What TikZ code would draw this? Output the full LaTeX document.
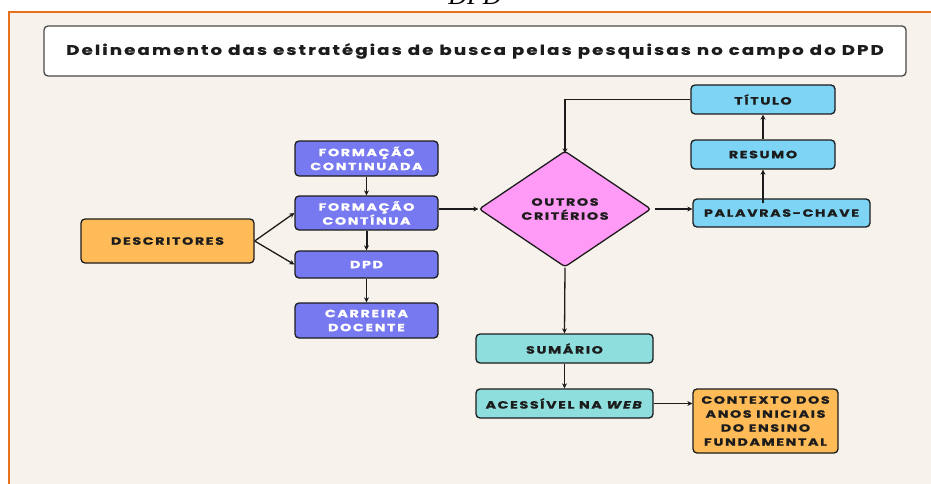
\documentclass[tikz,border=0pt]{standalone}
\usepackage{fontspec}
\usetikzlibrary{shapes.geometric,arrows.meta}
\newfontfamily\popf[FakeStretch=1.35,LetterSpace=16,FakeBold=1.2]{Poppins}
\newfontfamily\titf[FakeStretch=1.3,LetterSpace=15,FakeBold=0.5]{Poppins}
\newfontfamily\serf{Liberation Serif}
\definecolor{bgbeige}{HTML}{F7F3EC}
\definecolor{frameor}{HTML}{E8721C}
\definecolor{boxor}{HTML}{FFBB57}
\definecolor{boxpur}{HTML}{7779F0}
\definecolor{boxpink}{HTML}{FF9AF7}
\definecolor{boxblue}{HTML}{7DD4F5}
\definecolor{boxteal}{HTML}{8DDEDC}
\definecolor{ink}{HTML}{1C1C1C}
\tikzset{
  box/.style={draw=ink, line width=1.3pt, rounded corners=4pt, inner sep=0pt,
    align=center, font=\popf\bfseries\fontsize{10.5}{14}\selectfont, text=ink},
  pur/.style={box, fill=boxpur, text=white, minimum width=143pt},
  conn/.style={draw=ink, line width=1.3pt, -{Stealth[length=5pt,width=5pt]}},
}
\begin{document}
\begin{tikzpicture}[x=1pt,y=-1pt]
\useasboundingbox (0,0) rectangle (931,484);
\fill[white] (0,0) rectangle (931,484);
\fill[bgbeige] (9,12) rectangle (931,484);
\draw[frameor, line width=2pt] (9,484) -- (9,12) -- (931,12);
\node[font=\serf\itshape\fontsize{26}{28}\selectfont, anchor=base] (cap) at (475,5) {DPD};
\node[draw=ink!80, line width=1.3pt, fill=white, rounded corners=4pt, minimum width=862pt, minimum height=50pt,
  font=\titf\bfseries\fontsize{14}{16}\selectfont, text=ink] (title) at (475,51)
  {Delineamento das estratégias de busca pelas pesquisas no campo do DPD};
\node[box, fill=boxor, minimum width=173pt, minimum height=44pt] (desc) at (167.5,241) {DESCRITORES};
\node[pur, minimum height=35pt] (fc1) at (366.5,158.5) {FORMAÇÃO\\CONTINUADA};
\node[pur, minimum height=34pt] (fc2) at (366.5,213) {FORMAÇÃO\\CONTÍNUA};
\node[pur, minimum height=27pt] (dpd) at (366.5,264.5) {DPD};
\node[pur, minimum height=35pt] (car) at (366.5,320.5) {CARREIRA\\DOCENTE};
\node[box, shape=diamond, fill=boxpink, rounded corners=3pt, minimum width=172pt, minimum height=116pt] (dia) at (565,209) {OUTROS\\CRITÉRIOS};
\node[box, fill=boxblue, minimum width=144pt, minimum height=29pt] (tit) at (763,99.5) {TÍTULO};
\node[box, fill=boxblue, minimum width=144pt, minimum height=29pt] (res) at (763,154.5) {RESUMO};
\node[box, fill=boxblue, minimum width=177pt, minimum height=28pt] (pal) at (781.5,213) {PALAVRAS-CHAVE};
\node[box, fill=boxteal, minimum width=177pt, minimum height=29pt] (sum) at (564.5,348.5) {SUMÁRIO};
\node[box, fill=boxteal, minimum width=177pt, minimum height=29pt] (ace) at (564.5,403.5) {ACESSÍVEL NA \textit{WEB}};
\node[box, fill=boxor, minimum width=145pt, minimum height=64pt] (ctx) at (765.5,421) {CONTEXTO DOS\\ANOS INICIAIS\\DO ENSINO\\FUNDAMENTAL};
\draw[conn] (desc.east) -- (fc2.west);
\draw[conn] (desc.east) -- (dpd.west);
\draw[conn] (fc1.south) -- (fc2.north);
\draw[conn, line width=2pt] (fc2.south) -- (dpd.north);
\draw[conn] (dpd.south) -- (car.north);
\draw[conn] (fc2.east |- dia.west) -- (dia.west);
\draw[conn] ([xshift=3pt]dia.east) -- (pal.west |- dia.east);
\draw[conn] ([yshift=-5pt]res.south |- pal.north) -- (res.south);
\draw[conn] (res.north) -- (tit.south);
\draw[conn] (tit.west) -| ([yshift=-3pt]dia.north);
\draw[conn] (dia.south) -- (sum.north);
\draw[conn] (sum.south) -- (ace.north);
\draw[conn] (ace.east) -- (ace.east -| ctx.west);
\end{tikzpicture}
\end{document}
